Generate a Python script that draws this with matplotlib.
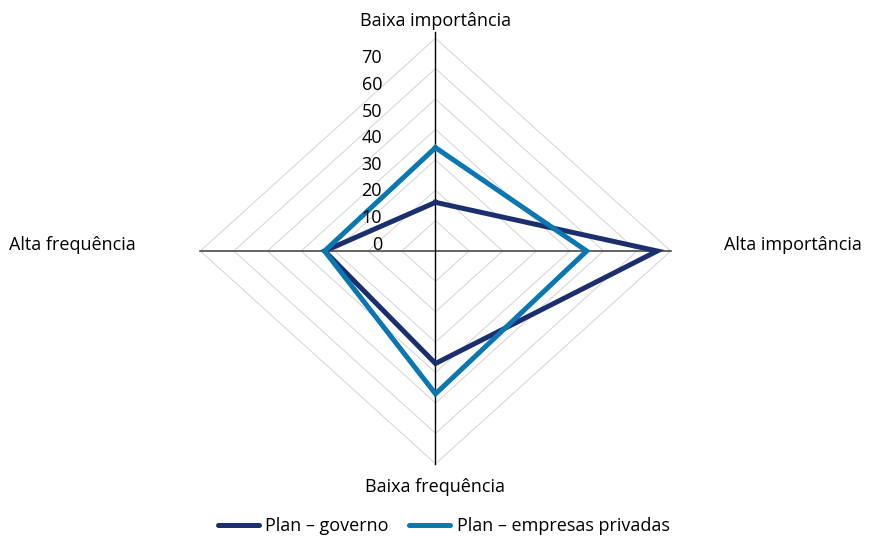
"""Radar chart: Plan - governo vs Plan - empresas privadas."""

import matplotlib

matplotlib.use("Agg")
import matplotlib.pyplot as plt
import numpy as np

plt.rcParams["font.family"] = ["Open Sans", "DejaVu Sans"]

# axis order: top, right, bottom, left
CATEGORIES = ["Baixa importância", "Alta importância", "Baixa frequência", "Alta frequência"]
GOVERNO = [16, 66, 37, 33]
PRIVADAS = [34, 45, 47, 33]
TICK_VALUES = [0, 10, 20, 30, 40, 50, 60, 70]
SERIES_LABELS = ["Plan – governo", "Plan – empresas privadas"]

GOV_COLOR = "#1b2f6f"
PRIV_COLOR = "#0a77b0"
GRID_COLOR = "#d9d9d9"
AXIS_COLOR = "#3a3a3a"
FS = 13

# pixel geometry of the reference (center and px per unit)
CX, CY = 435.5, 251.0
SX, SY = 3.36, 3.04
W, H = 870, 537

# unit direction of each axis (top, right, bottom, left)
DIRS = np.array([[0, 1], [1, 0], [0, -1], [-1, 0]], dtype=float)


def to_xy(values):
    pts = DIRS * np.asarray(values, dtype=float)[:, None]
    return np.vstack([pts, pts[:1]])


fig = plt.figure(figsize=(W / 100, H / 100), dpi=100)
ax = fig.add_axes([0, 0, 1, 1])
ax.set_xlim(-CX / SX, (W - CX) / SX)
ax.set_ylim(-(H - CY) / SY, CY / SY)
ax.axis("off")

rmax = max(TICK_VALUES)
for r in TICK_VALUES[1:]:
    xy = to_xy([r] * 4)
    ax.plot(xy[:, 0], xy[:, 1], color=GRID_COLOR, lw=0.8, zorder=1)

ax.plot([-rmax, rmax], [0, 0], color=AXIS_COLOR, lw=1.1, zorder=2)
ax.plot([0, 0], [-rmax, rmax + 2], color="black", lw=1.0, zorder=2)

for vals, col in [(GOVERNO, GOV_COLOR), (PRIVADAS, PRIV_COLOR)]:
    xy = to_xy(vals)
    ax.plot(xy[:, 0], xy[:, 1], color=col, lw=3.6, solid_joinstyle="miter", zorder=3)

# value labels (the reference packs them slightly tighter than the rings)
label_step = 0.875
for v in TICK_VALUES:
    ax.text(-15.9, 2.1 + v * label_step, str(v), ha="right", va="center",
            fontsize=FS, color="black")

# category labels, placed in figure pixels
def fig_text(x, y, s, ha):
    fig.text(x / W, 1 - y / H, s, ha=ha, va="center", fontsize=FS)


fig_text(CX, 21, CATEGORIES[0], "center")
fig_text(724, 245, CATEGORIES[1], "left")
fig_text(CX, 487, CATEGORIES[2], "center")
fig_text(9, 245, CATEGORIES[3], "left")

handles = [plt.Line2D([], [], color=c, lw=3.6, solid_capstyle="round")
           for c in (GOV_COLOR, PRIV_COLOR)]
fig.legend(handles, SERIES_LABELS, loc="center", ncol=2, frameon=False,
           fontsize=FS, handlelength=2.3, columnspacing=1.1, handletextpad=0.35,
           bbox_to_anchor=(443.5 / W, 1 - 526 / H))

fig.savefig("out.png", dpi=100)
